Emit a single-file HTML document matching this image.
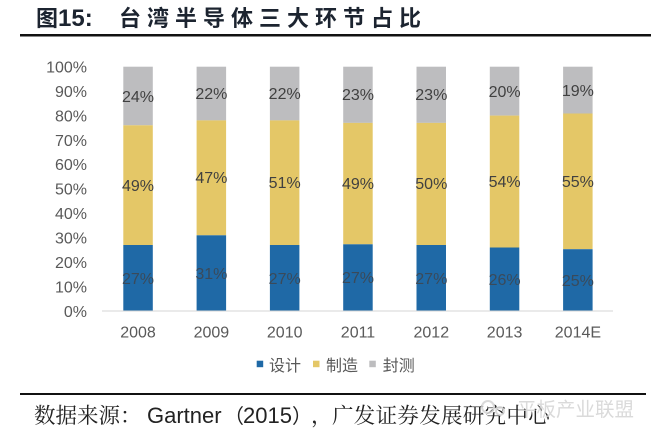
<!DOCTYPE html>
<html><head><meta charset="utf-8"><style>
html,body{margin:0;padding:0;background:#fff;}
svg{display:block;}
</style></head><body>
<svg width="652" height="442" viewBox="0 0 652 442" xmlns="http://www.w3.org/2000/svg">
<rect width="652" height="442" fill="#fff"/>
<!-- Title -->
<g font-family="'Liberation Sans','Noto Sans CJK SC',sans-serif" font-weight="bold" fill="#1c2430">
<text x="36" y="26" font-size="22">图</text>
<text x="58" y="26" font-size="24">15:</text>
<text x="119" y="26" font-size="22" letter-spacing="6">台湾半导体三大环节占比</text>
</g>
<rect x="20" y="34" width="631" height="2.5" fill="#111"/>

<!-- Y axis labels -->
<g font-family="'Liberation Sans',sans-serif" font-size="16" fill="#595959" text-anchor="end">
<text x="87" y="72.5">100%</text>
<text x="87" y="96.9">90%</text>
<text x="87" y="121.3">80%</text>
<text x="87" y="145.8">70%</text>
<text x="87" y="170.2">60%</text>
<text x="87" y="194.6">50%</text>
<text x="87" y="219.1">40%</text>
<text x="87" y="243.5">30%</text>
<text x="87" y="267.9">20%</text>
<text x="87" y="292.4">10%</text>
<text x="87" y="316.8">0%</text>
</g>

<!-- Bars -->
<g>
<!-- 2008 -->
<rect x="123.3" y="66.7" width="29.5" height="58.6" fill="#bdbdbf"/>
<rect x="123.3" y="125.3" width="29.5" height="119.7" fill="#e4c767"/>
<rect x="123.3" y="245" width="29.5" height="66" fill="#1f69a6"/>
<!-- 2009 -->
<rect x="196.6" y="66.7" width="29.5" height="53.7" fill="#bdbdbf"/>
<rect x="196.6" y="120.4" width="29.5" height="114.9" fill="#e4c767"/>
<rect x="196.6" y="235.3" width="29.5" height="75.7" fill="#1f69a6"/>
<!-- 2010 -->
<rect x="269.9" y="66.7" width="29.5" height="53.7" fill="#bdbdbf"/>
<rect x="269.9" y="120.4" width="29.5" height="124.6" fill="#e4c767"/>
<rect x="269.9" y="245" width="29.5" height="66" fill="#1f69a6"/>
<!-- 2011 -->
<rect x="343.2" y="66.7" width="29.5" height="56.2" fill="#bdbdbf"/>
<rect x="343.2" y="122.9" width="29.5" height="121.4" fill="#e4c767"/>
<rect x="343.2" y="244.3" width="29.5" height="66.7" fill="#1f69a6"/>
<!-- 2012 -->
<rect x="416.5" y="66.7" width="29.5" height="56.2" fill="#bdbdbf"/>
<rect x="416.5" y="122.9" width="29.5" height="122.1" fill="#e4c767"/>
<rect x="416.5" y="245" width="29.5" height="66" fill="#1f69a6"/>
<!-- 2013 -->
<rect x="489.8" y="66.7" width="29.5" height="48.9" fill="#bdbdbf"/>
<rect x="489.8" y="115.6" width="29.5" height="131.9" fill="#e4c767"/>
<rect x="489.8" y="247.5" width="29.5" height="63.5" fill="#1f69a6"/>
<!-- 2014E -->
<rect x="563.1" y="66.7" width="29.5" height="46.8" fill="#bdbdbf"/>
<rect x="563.1" y="113.5" width="29.5" height="135.7" fill="#e4c767"/>
<rect x="563.1" y="249.2" width="29.5" height="61.8" fill="#1f69a6"/>
</g>
<rect x="102" y="310.5" width="511" height="1" fill="#d6d6d6"/>

<!-- Data labels -->
<g font-family="'Liberation Sans',sans-serif" font-size="16" fill="#404040" text-anchor="middle">
<text x="138" y="102">24%</text><text x="138" y="191">49%</text><text x="138" y="284" fill="#3a4a5a">27%</text>
<text x="211.4" y="99">22%</text><text x="211.4" y="183">47%</text><text x="211.4" y="279" fill="#3a4a5a">31%</text>
<text x="284.7" y="99">22%</text><text x="284.7" y="188">51%</text><text x="284.7" y="284" fill="#3a4a5a">27%</text>
<text x="358" y="100">23%</text><text x="358" y="189">49%</text><text x="358" y="283" fill="#3a4a5a">27%</text>
<text x="431.3" y="100">23%</text><text x="431.3" y="189">50%</text><text x="431.3" y="284" fill="#3a4a5a">27%</text>
<text x="504.6" y="97">20%</text><text x="504.6" y="187">54%</text><text x="504.6" y="285" fill="#3a4a5a">26%</text>
<text x="577.9" y="96">19%</text><text x="577.9" y="187">55%</text><text x="577.9" y="286" fill="#3a4a5a">25%</text>
</g>

<!-- X labels -->
<g font-family="'Liberation Sans',sans-serif" font-size="16" fill="#595959" text-anchor="middle">
<text x="138" y="337.5">2008</text>
<text x="211.4" y="337.5">2009</text>
<text x="284.7" y="337.5">2010</text>
<text x="358" y="337.5">2011</text>
<text x="431.3" y="337.5">2012</text>
<text x="504.6" y="337.5">2013</text>
<text x="577.9" y="337.5">2014E</text>
</g>

<!-- Legend -->
<rect x="256.7" y="360.7" width="6.5" height="6.5" fill="#1f69a6"/>
<rect x="313" y="360.7" width="6.5" height="6.5" fill="#e4c767"/>
<rect x="369.3" y="360.7" width="6.5" height="6.5" fill="#bdbdbf"/>
<g font-family="'Liberation Sans','Noto Sans CJK SC',sans-serif" font-size="16" fill="#595959">
<text x="269" y="371">设计</text>
<text x="326" y="371">制造</text>
<text x="382.7" y="371">封测</text>
</g>

<!-- Footer -->
<rect x="20" y="393" width="626" height="2" fill="#111"/>
<g fill="#222">
<text x="34" y="423" font-family="'Liberation Serif','Noto Serif CJK SC',serif" font-size="21.5">数据来源：</text>
<text x="147" y="423" font-family="'Liberation Sans',sans-serif" font-size="22">Gartner</text>
<text x="224" y="423" font-family="'Liberation Sans','Noto Sans CJK SC',sans-serif" font-size="20">（</text>
<text x="243" y="423" font-family="'Liberation Sans',sans-serif" font-size="22">2015</text>
<text x="292" y="423" font-family="'Liberation Sans','Noto Sans CJK SC',sans-serif" font-size="20">）</text>
<text x="311" y="423" font-family="'Liberation Serif','Noto Serif CJK SC',serif" font-size="21.5">，</text>
<text x="332" y="423" font-family="'Liberation Serif','Noto Serif CJK SC',serif" font-size="21.5" letter-spacing="0.3">广发证券发展研究中心</text>
</g>
<!-- watermark -->
<g fill="#d4d4d4" opacity="0.85">
<circle cx="488" cy="407" r="6" fill="none" stroke="#d4d4d4" stroke-width="2"/>
<circle cx="500" cy="411" r="4" fill="none" stroke="#d4d4d4" stroke-width="2"/>
<text x="517" y="416" font-family="'Liberation Sans','Noto Sans CJK SC',sans-serif" font-size="19.5">平板产业联盟</text>
</g>
</svg>
</body></html>
